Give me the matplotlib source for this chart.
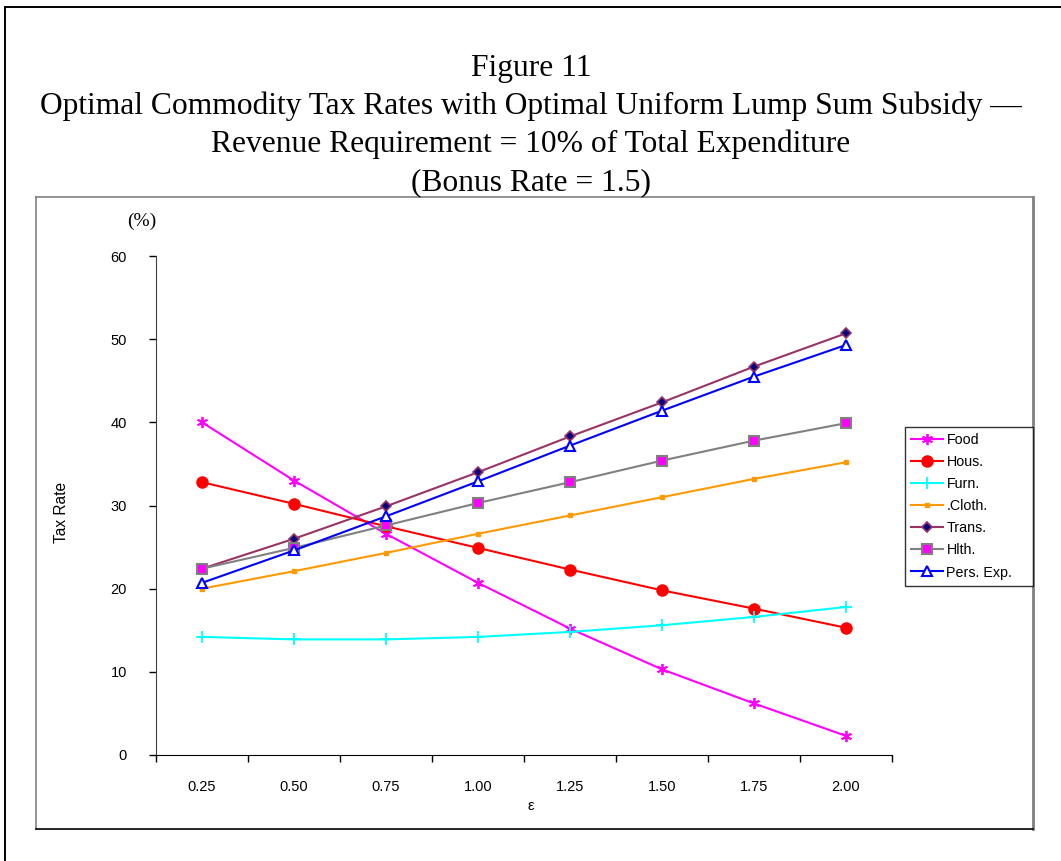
import matplotlib.pyplot as plt
from matplotlib.lines import Line2D

W, H = 1061, 861

CATEGORIES = ["0.25", "0.50", "0.75", "1.00", "1.25", "1.50", "1.75", "2.00"]
FOOD = [40.0, 33.0, 26.6, 20.7, 15.2, 10.3, 6.2, 2.3]
HOUS = [32.8, 30.2, 27.5, 24.9, 22.3, 19.8, 17.6, 15.3]
FURN = [14.2, 13.9, 13.9, 14.2, 14.8, 15.6, 16.6, 17.8]
CLOTH = [20.0, 22.1, 24.3, 26.6, 28.8, 31.0, 33.2, 35.2]
TRANS = [22.4, 26.0, 29.9, 34.0, 38.3, 42.4, 46.7, 50.7]
HLTH = [22.4, 24.9, 27.6, 30.3, 32.8, 35.4, 37.8, 39.9]
PERS = [20.7, 24.6, 28.7, 32.9, 37.2, 41.4, 45.5, 49.3]

SANS = "Liberation Sans"
SERIF = "Liberation Serif"


def fx(px):
    return px / W


def fy(py):
    return 1 - py / H


def fig_line(fig, x0, y0, x1, y1, color="black", lw=1.0):
    fig.add_artist(Line2D([fx(x0), fx(x1)], [fy(y0), fy(y1)],
                          transform=fig.transFigure, color=color, lw=lw))


fig = plt.figure(figsize=(W / 100, H / 100), dpi=100)

# outer frame (left and top only visible)
fig_line(fig, 5, 7, 5, 861, lw=1.4)
fig_line(fig, 5, 7, 1061, 7, lw=1.4)

# chart area box
fig_line(fig, 36, 197, 1033, 197, color="#808080", lw=1.2)
fig_line(fig, 36, 197, 36, 829, color="#808080", lw=1.2)
fig_line(fig, 1033, 197, 1033, 829, color="#808080", lw=2.0)
fig_line(fig, 36, 829, 1033, 829, color="black", lw=1.2)

title_lines = [
    "Figure 11",
    "Optimal Commodity Tax Rates with Optimal Uniform Lump Sum Subsidy \u2014",
    "Revenue Requirement = 10% of Total Expenditure",
    "(Bonus Rate = 1.5)",
]
for i, line in enumerate(title_lines):
    fig.text(fx(531), fy(76 + i * 38), line, ha="center", va="baseline",
             family=SERIF, fontsize=22.7)

ax = fig.add_axes([fx(156), fy(755), fx(892) - fx(156), fy(256) - fy(755)])
x = list(range(len(CATEGORIES)))

ax.plot(x, FOOD, color="#ff00ff", lw=1.5, marker=(6, 2, 0), ms=8,
        mec="#ff00ff", mew=1.3, label="Food")
ax.plot(x, HOUS, color="#ff0000", lw=1.5, marker="o", ms=8,
        mfc="#ff0000", mec="#ff0000", label="Hous.")
ax.plot(x, FURN, color="#00ffff", lw=1.5, marker="+", ms=8,
        mec="#00ffff", mew=1.3, label="Furn.")
ax.plot(x, CLOTH, color="#ff9900", lw=1.5, marker="s", ms=3.5,
        mfc="#ff9900", mec="#ff9900", label=".Cloth.")
ax.plot(x, TRANS, color="#993366", lw=1.5, marker="D", ms=5,
        mfc="#000080", mec="#993366", mew=1.2, label="Trans.")
ax.plot(x, HLTH, color="#808080", lw=1.5, marker="s", ms=7,
        mfc="#ff00ff", mec="#808080", mew=1.5, label="Hlth.")
ax.plot(x, PERS, color="#0000ff", lw=1.5, marker="^", ms=7,
        mfc="white", mec="#0000ff", mew=1.5, label="Pers. Exp.")

ax.set_xlim(-0.5, len(CATEGORIES) - 0.5)
ax.set_ylim(0, 60)
ax.set_yticks(range(0, 61, 10))
ax.set_xticks([i - 0.5 for i in range(len(CATEGORIES) + 1)])
ax.set_xticklabels([])
ax.set_xticks(x, minor=True)
ax.set_xticklabels(CATEGORIES, minor=True, family=SANS, fontsize=10.5)
ax.tick_params(axis="x", which="major", direction="out", length=5, width=1)
ax.tick_params(axis="x", which="minor", length=0, pad=18)
ax.tick_params(axis="y", direction="out", length=5, width=1, pad=16)
for label in ax.get_yticklabels():
    label.set_family(SANS)
    label.set_fontsize(10.5)

for side in ["top", "right"]:
    ax.spines[side].set_visible(False)
ax.spines["left"].set_color("#404040")

fig.text(fx(61), fy(512), "Tax Rate", rotation=90, ha="center", va="center",
         family=SANS, fontsize=11.2)
fig.text(fx(142), fy(221), "(%)", ha="center", va="center",
         family=SERIF, fontsize=14)
fig.text(fx(531), fy(806), "\u03b5", ha="center", va="center",
         family=SANS, fontsize=10.5)

leg = fig.legend(loc="upper left",
                 bbox_to_anchor=(fx(905), fy(585), fx(1033) - fx(905),
                                 fy(427) - fy(585)),
                 mode="expand", frameon=True, fancybox=False,
                 edgecolor="black", prop={"family": SANS, "size": 10.3},
                 handlelength=2.2, borderpad=0.45, labelspacing=0.56,
                 handletextpad=0.25, borderaxespad=0)
leg.get_frame().set_linewidth(1.0)

fig.savefig("out.png", dpi=100)
